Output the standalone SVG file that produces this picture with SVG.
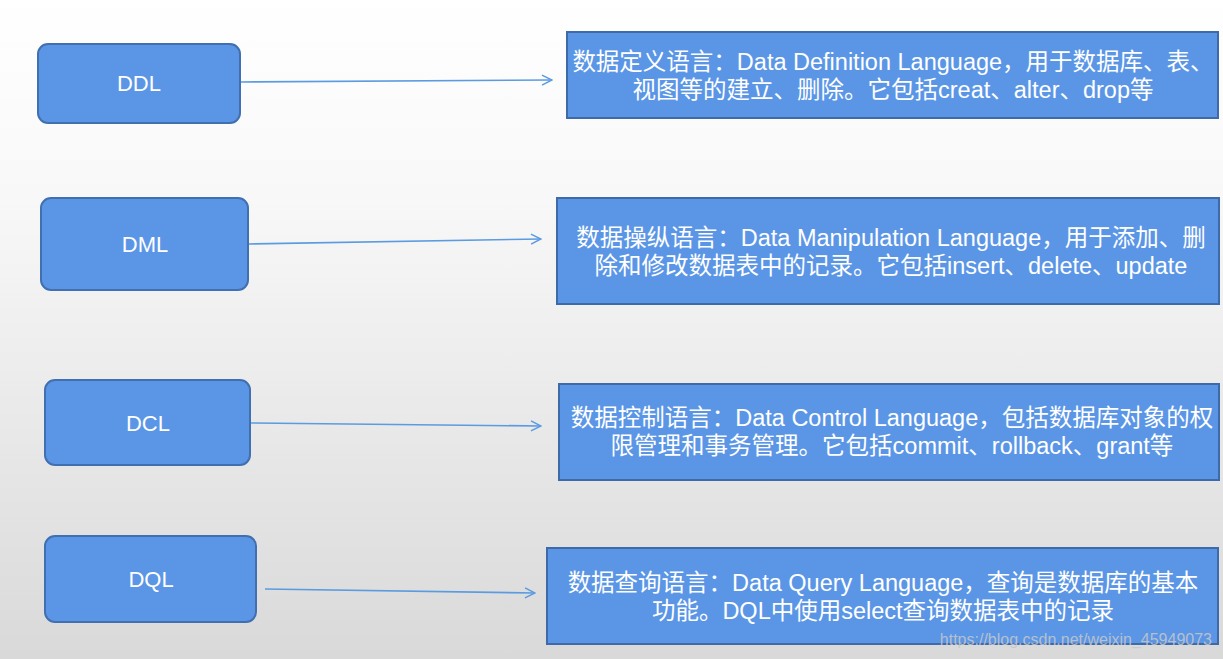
<svg xmlns="http://www.w3.org/2000/svg" width="1223" height="659" viewBox="0 0 1223 659">
<defs>
<linearGradient id="bg" x1="0" y1="0" x2="0" y2="1">
<stop offset="0" stop-color="#ffffff"/>
<stop offset="0.3" stop-color="#f8f8f8"/>
<stop offset="1" stop-color="#d9d9d9"/>
</linearGradient>
<marker id="arr" viewBox="0 0 12 12" refX="11" refY="6" markerWidth="12" markerHeight="12" markerUnits="userSpaceOnUse" orient="auto">
<path d="M1,1 L11,6 L1,11" fill="none" stroke="#5B9BE0" stroke-width="1.5"/>
</marker>
<style>
.node{fill:#5B96E6;stroke:#4170B0;stroke-width:2}
.desc{fill:#5B96E6;stroke:#3F6AA8;stroke-width:2}
.lbl{font-family:"Liberation Sans","Noto Sans CJK SC",sans-serif;font-size:22px;fill:#ffffff;text-anchor:middle}
.txt{font-family:"Liberation Sans","Noto Sans CJK SC",sans-serif;font-size:23.5px;fill:#ffffff;text-anchor:middle}
.conn{stroke:#5B9BE0;stroke-width:1.6;fill:none}
</style>
</defs>
<rect width="1223" height="659" fill="url(#bg)"/>
<g id="connectors">
<line class="conn" x1="241" y1="82" x2="552" y2="80" marker-end="url(#arr)"/>
<line class="conn" x1="249" y1="244" x2="541" y2="239" marker-end="url(#arr)"/>
<line class="conn" x1="251" y1="423" x2="541" y2="426" marker-end="url(#arr)"/>
<line class="conn" x1="265" y1="589" x2="535" y2="593" marker-end="url(#arr)"/>
</g>
<g id="ddl"><rect class="node" x="38" y="44" width="202" height="79" rx="10"/><text class="lbl" x="139" y="91">DDL</text></g>
<g id="dml"><rect class="node" x="41" y="198" width="207" height="92" rx="10"/><text class="lbl" x="145" y="252">DML</text></g>
<g id="dcl"><rect class="node" x="45" y="380" width="205" height="85" rx="10"/><text class="lbl" x="148" y="431">DCL</text></g>
<g id="dql"><rect class="node" x="45" y="536" width="211" height="86" rx="10"/><text class="lbl" x="151" y="587">DQL</text></g>
<g id="ddl-desc"><rect class="desc" x="567" y="32" width="651" height="86"/>
<text class="txt" x="893" y="70">数据定义语言：Data Definition Language，用于数据库、表、</text>
<text class="txt" x="893" y="98">视图等的建立、删除。它包括creat、alter、drop等</text></g>
<g id="dml-desc"><rect class="desc" x="557" y="198" width="662" height="106"/>
<text class="txt" x="891" y="246">数据操纵语言：Data Manipulation Language，用于添加、删</text>
<text class="txt" x="891" y="274">除和修改数据表中的记录。它包括insert、delete、update</text></g>
<g id="dcl-desc"><rect class="desc" x="559" y="384" width="660" height="96"/>
<text class="txt" x="892" y="426">数据控制语言：Data Control Language，包括数据库对象的权</text>
<text class="txt" x="892" y="454">限管理和事务管理。它包括commit、rollback、grant等</text></g>
<g id="dql-desc"><rect class="desc" x="547" y="548" width="671" height="96"/>
<text class="txt" x="883" y="591">数据查询语言：Data Query Language，查询是数据库的基本</text>
<text class="txt" x="883" y="619">功能。DQL中使用select查询数据表中的记录</text></g>
<text x="1212" y="645" font-family="Liberation Sans, sans-serif" font-size="16" fill="#c8c8c8" fill-opacity="0.85" text-anchor="end">https://blog.csdn.net/weixin_45949073</text>
</svg>
